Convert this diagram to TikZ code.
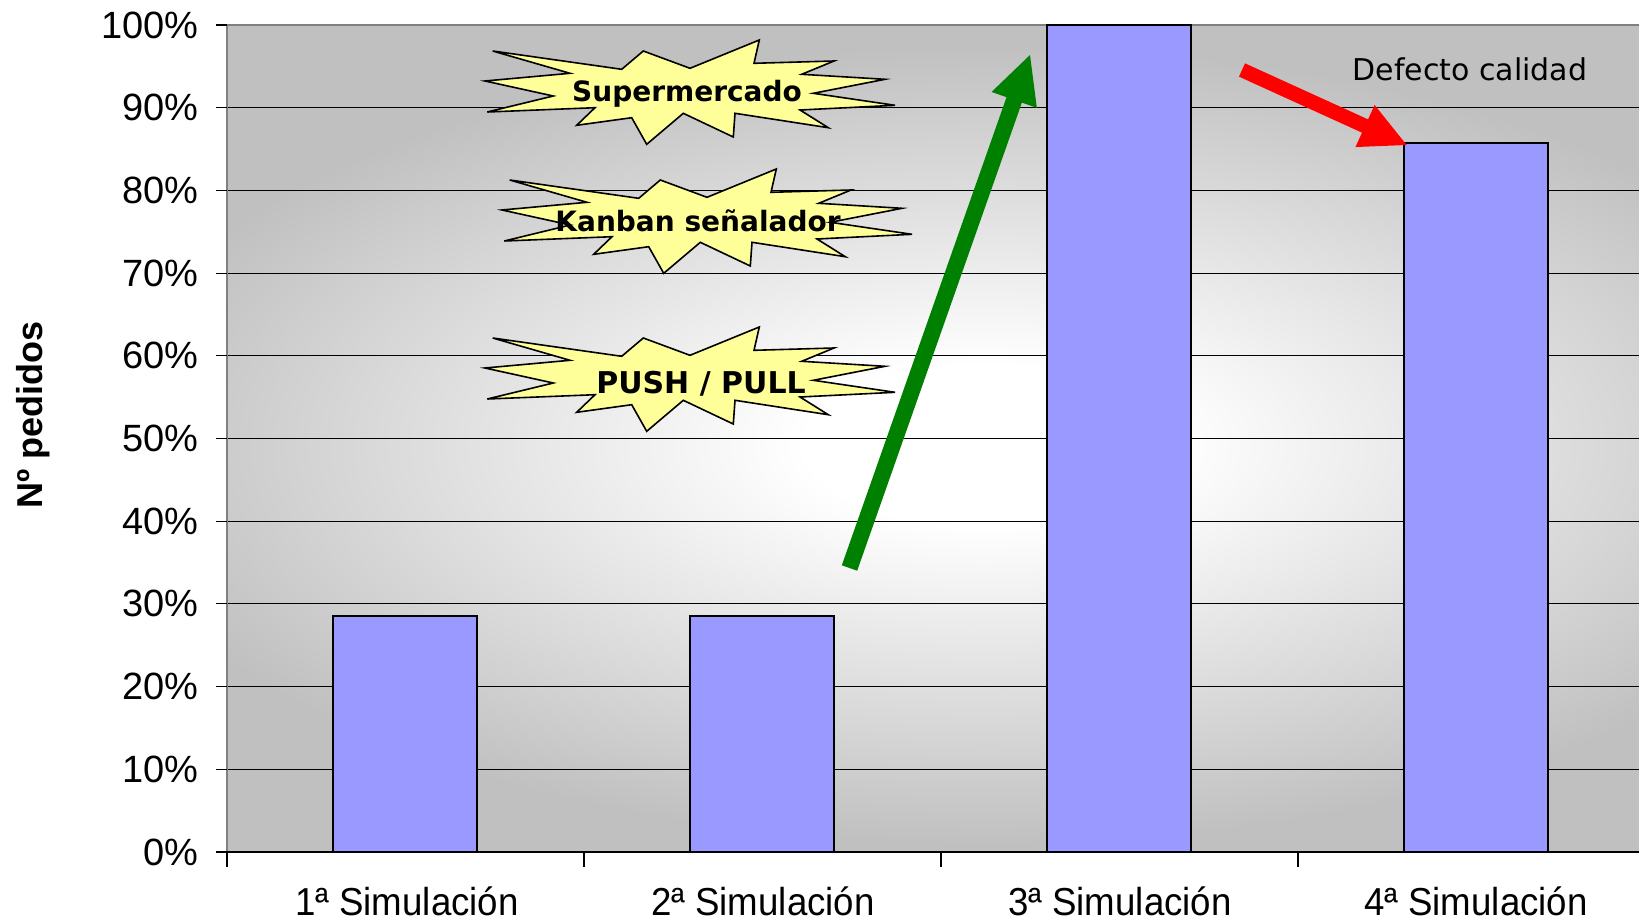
\documentclass[tikz,border=0pt]{standalone}
\usepackage{fontspec}
\setmainfont{Liberation Sans}
\newfontfamily\comicfont{DejaVu Sans}
\newfontfamily\xlabfont[FakeStretch=0.94]{Liberation Sans}
\usetikzlibrary{calc}
\definecolor{bggray}{HTML}{C0C0C0}
\definecolor{bordergray}{HTML}{808080}
\definecolor{barblue}{HTML}{9999FF}
\definecolor{staryellow}{HTML}{FFFF99}
\definecolor{arrowgreen}{HTML}{008000}
\definecolor{arrowred}{HTML}{FF0000}
\pgfdeclareradialshading{plotbg}{\pgfpoint{0bp}{0bp}}{color(0bp)=(white); color(5bp)=(white); color(25bp)=(bggray); color(50bp)=(bggray)}
\tikzset{
  grid/.style={draw=black, line width=0.55pt},
  barbox/.style={draw=black, line width=1pt, fill=barblue},
  starstyle/.style={draw=black, line width=0.8pt, fill=staryellow, line join=miter},
  startext/.style={font=\comicfont\bfseries\fontsize{14pt}{16pt}\selectfont, anchor=base, inner sep=0pt},
  ylab/.style={font=\fontsize{19pt}{22pt}\selectfont, anchor=east, inner sep=0pt},
  xlab/.style={font=\xlabfont\fontsize{19.5pt}{22pt}\selectfont, anchor=base, inner sep=0pt},
  tickmark/.style={draw=black, line width=0.55pt},
  starburst/.pic={
    \path[starstyle] (-197.3,-41) -- (-68.3,-22.7) -- (-46.7,-41) -- (0,-23.7) -- (69.3,-52) -- (64,-28.7)
      -- (144,-31) -- (111.7,-17.7) -- (195,-12.7) -- (123.3,1.3) -- (205,13.3) -- (110,18)
      -- (138.3,35.7) -- (45,21.3) -- (43.3,45) -- (-6.7,21.3) -- (-43.3,52.3) -- (-58.3,25.7)
      -- (-113.3,33.3) -- (-95,15.7) -- (-202.7,20) -- (-136.7,4) -- (-205,-11) -- (-120,-18.7) -- cycle;
  }
}
\begin{document}
\begin{tikzpicture}[x=0.5pt,y=-0.5pt]
\useasboundingbox (0,0) rectangle (1639,921);
\fill[white] (0,0) rectangle (1639,921);
% plot background
\begin{scope}
  \clip (227,25) rectangle (1639,852);
  \fill[bggray] (227,25) rectangle (1639,852);
  \shade[shading=plotbg] (85,45) rectangle (1885,845);
\end{scope}
% gridlines
\foreach \k in {1,...,9} {
  \draw[grid] (227,{852-82.7*\k}) -- (1639,{852-82.7*\k});
}
% plot border / axes
\draw[draw=bordergray, line width=1.2pt] (227,852) -- (227,25) -- (1639,25);
\draw[draw=black, line width=0.7pt] (227,852) -- (1639,852);
% ticks
\foreach \k in {0,...,10} {
  \draw[tickmark] (216,{852-82.7*\k}) -- (227,{852-82.7*\k});
}
\foreach \xx in {227,584,941,1298} {
  \draw[tickmark] (\xx,852) -- (\xx,867);
}
% bars
\draw[barbox] (332.5,616) rectangle (476.5,852);
\draw[barbox] (689.5,616) rectangle (833.5,852);
\draw[barbox] (1046.5,25) rectangle (1190.5,852);
\draw[barbox] (1403.5,143.3) rectangle (1547.5,852);
% y labels
\foreach \k/\t in {0/0,1/10,2/20,3/30,4/40,5/50,6/60,7/70,8/80,9/90,10/100} {
  \node[ylab] (yl\k) at (199,{852-82.7*\k}) {\t\%};
}
% x labels
\node[xlab] (x1) at (407,915) {1ª Simulación};
\node[xlab] (x2) at (763,915) {2ª Simulación};
\node[xlab] (x3) at (1120,915) {3ª Simulación};
\node[xlab] (x4) at (1476,915) {4ª Simulación};
% y title
\node[font=\bfseries\fontsize{18pt}{20pt}\selectfont, rotate=90, inner sep=0pt] (ytitle) at (33,415) {Nº pedidos};
% starbursts
\pic at (690,92) {starburst};
\pic at (707,221) {starburst};
\pic at (690,379) {starburst};
\node[startext] (sup) at (687,101) {Supermercado};
\node[startext] (kan) at (698,231) {Kanban señalador};
\node[startext, font=\comicfont\bfseries\fontsize{15pt}{16pt}\selectfont] (push) at (701,393) {PUSH / PULL};
% defect label
\node[font=\comicfont\fontsize{15pt}{18pt}\selectfont, anchor=base, inner sep=0pt] (defect) at (1470,80) {Defecto calidad};
% green arrow
\coordinate (gtail) at (849.5,568);
\coordinate (gtip) at (1030,55);
\coordinate (gbase) at ($(gtip)!23.8pt!(gtail)$);
\draw[arrowgreen, line width=8.15pt] (gtail) -- ($(gtip)!20pt!(gtail)$);
\fill[arrowgreen] (gtip) -- ($(gbase)!12pt!90:(gtip)$) -- ($(gbase)!12pt!-90:(gtip)$) -- cycle;
% red arrow
\coordinate (rtail) at (1242,70);
\coordinate (rtip) at (1406.7,145);
\coordinate (rbase) at ($(rtip)!22.9pt!(rtail)$);
\draw[arrowred, line width=7.3pt] (rtail) -- ($(rtip)!19pt!(rtail)$);
\fill[arrowred] (rtip) -- ($(rbase)!11.55pt!90:(rtip)$) -- ($(rbase)!11.55pt!-90:(rtip)$) -- cycle;
\end{tikzpicture}
\end{document}
